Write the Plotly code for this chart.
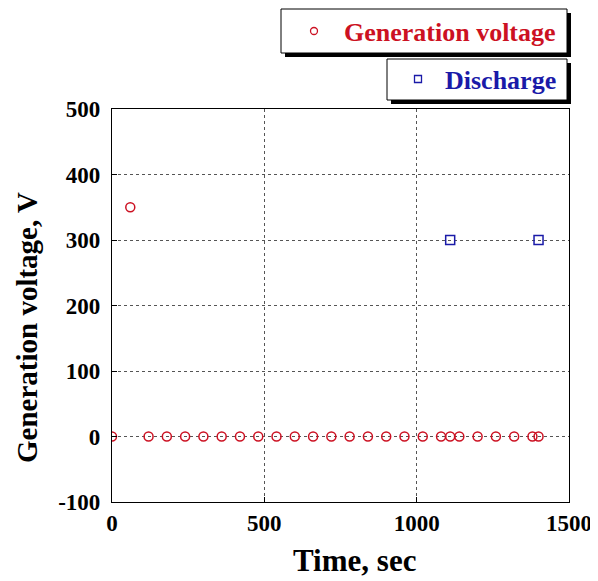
import plotly.graph_objects as go

gen_time = [0, 60, 120, 180, 240, 300, 360, 420, 480, 540, 600, 660, 720, 780,
            840, 900, 960, 1020, 1080, 1110, 1140, 1200, 1260, 1320, 1380, 1400]
gen_volt = [0, 350, 0, 0, 0, 0, 0, 0, 0, 0, 0, 0, 0, 0,
            0, 0, 0, 0, 0, 0, 0, 0, 0, 0, 0, 0]
dis_time = [1110, 1400]
dis_volt = [300, 300]

RED = "#cc1122"
BLUE = "#1a1aa8"
FONT = "Liberation Serif"

fig = go.Figure()
fig.add_trace(go.Scatter(x=gen_time, y=gen_volt, mode="markers", name="Generation voltage",
                         marker=dict(symbol="circle-open", size=9, color=RED, line=dict(width=1.5, color=RED)),
                         showlegend=False))
fig.add_trace(go.Scatter(x=dis_time, y=dis_volt, mode="markers", name="Discharge",
                         marker=dict(symbol="square-open", size=9, color=BLUE, line=dict(width=1.5, color=BLUE)),
                         showlegend=False))

OFF = 8  # page body margin
W, H = 598 - OFF, 581 - OFF
L, R, T, B = 112 - OFF, 29, 109 - OFF, 79
pw, ph = W - L - R, H - T - B

def px(x):
    return (x - OFF - L) / pw

def py(y):
    return (H - B - (y - OFF)) / ph

shapes = []
annotations = []

def legend_box(x0, y0, x1, y1):
    shapes.append(dict(type="rect", xref="paper", yref="paper",
                       x0=px(x0 + 4), x1=px(x1 + 4), y0=py(y0 + 4), y1=py(y1 + 4),
                       fillcolor="black", line=dict(width=0), layer="above"))
    shapes.append(dict(type="rect", xref="paper", yref="paper",
                       x0=px(x0), x1=px(x1), y0=py(y0), y1=py(y1),
                       fillcolor="white", line=dict(width=1, color="black"), layer="above"))

legend_box(281, 9, 567, 53)
legend_box(387, 59, 567, 100)

shapes.append(dict(type="circle", xref="paper", yref="paper",
                   x0=px(310.5), x1=px(317.5), y0=py(27.5), y1=py(34.5),
                   line=dict(color=RED, width=1.3), layer="above"))
shapes.append(dict(type="rect", xref="paper", yref="paper",
                   x0=px(414.5), x1=px(421.5), y0=py(75.5), y1=py(82.5),
                   line=dict(color=BLUE, width=1.3), layer="above"))

annotations.append(dict(text="<b>Generation voltage</b>", xref="paper", yref="paper",
                        x=px(558), y=py(32), xanchor="right", yanchor="middle", showarrow=False,
                        font=dict(family=FONT, size=26, color=RED)))
annotations.append(dict(text="<b>Discharge</b>", xref="paper", yref="paper",
                        x=px(558), y=py(80), xanchor="right", yanchor="middle", showarrow=False,
                        font=dict(family=FONT, size=26, color=BLUE)))

# axis titles
annotations.append(dict(text="<b>Time, sec</b>", xref="paper", yref="paper",
                        x=px(354), y=py(560), xanchor="center", yanchor="middle", showarrow=False,
                        font=dict(family=FONT, size=31, color="black")))
annotations.append(dict(text="<b>Generation voltage, V</b>", xref="paper", yref="paper",
                        x=px(27), y=py(328), xanchor="center", yanchor="middle", showarrow=False,
                        textangle=-90,
                        font=dict(family=FONT, size=29, color="black")))

fig.update_layout(
    width=W, height=H,
    margin=dict(l=L, r=R, t=T, b=B),
    paper_bgcolor="white", plot_bgcolor="white",
    shapes=shapes, annotations=annotations,
    font=dict(family=FONT, color="black"),
)
axis_common = dict(showline=True, linecolor="black", linewidth=1.2, mirror=True,
                   ticks="inside", ticklen=5, tickcolor="black",
                   showgrid=True, gridcolor="#555555", griddash="dot", gridwidth=1,
                   zeroline=False, automargin=False,
                   tickfont=dict(family=FONT, size=23, color="black"))
fig.update_xaxes(range=[0, 1500], tickvals=[0, 500, 1000, 1500],
                 ticktext=["<b>0</b>", "<b>500</b>", "<b>1000</b>", "<b>1500</b>"],
                 **axis_common)
fig.update_yaxes(range=[-100, 500], tickvals=[-100, 0, 100, 200, 300, 400, 500],
                 ticktext=["<b>-100</b>", "<b>0</b>", "<b>100</b>", "<b>200</b>", "<b>300</b>", "<b>400</b>", "<b>500</b>"],
                 ticklabelstandoff=6,
                 **axis_common)

fig.write_html("out.html")
